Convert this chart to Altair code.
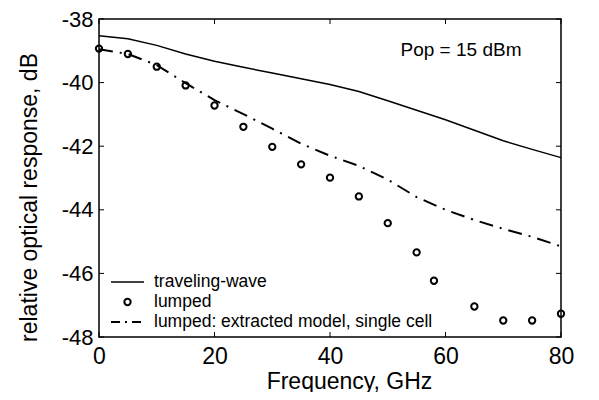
import altair as alt
import pandas as pd

# ---- data ----
freq = [0, 5, 10, 15, 20, 25, 30, 35, 40, 45, 50, 55, 60, 65, 70, 75, 80]
traveling_wave = [-38.53, -38.62, -38.83, -39.10, -39.33, -39.52, -39.70, -39.88, -40.06,
                  -40.28, -40.57, -40.87, -41.17, -41.50, -41.83, -42.10, -42.36]
extracted_model = [-38.95, -39.10, -39.45, -40.02, -40.55, -40.99, -41.45, -41.92, -42.30,
                   -42.62, -43.05, -43.60, -44.00, -44.32, -44.60, -44.85, -45.15]
lumped_freq = [0, 5, 10, 15, 20, 25, 30, 35, 40, 45, 50, 55, 58, 65, 70, 75, 80]
lumped_resp = [-38.93, -39.10, -39.50, -40.09, -40.72, -41.39, -42.02, -42.57, -42.99,
               -43.58, -44.42, -45.34, -46.23, -47.04, -47.48, -47.48, -47.27]
legend_labels = ["traveling-wave", "lumped", "lumped: extracted model, single cell"]
x_ticks = [0, 20, 40, 60, 80]
y_ticks = [-48, -46, -44, -42, -40, -38]
annotation = "Pop = 15 dBm"

FONT = "Liberation Sans"
W, H = 462, 318
TICK = 5

xs = alt.Scale(domain=[0, 80], nice=False, zero=False)
ys = alt.Scale(domain=[-48, -38], nice=False, zero=False)

x_axis = alt.Axis(values=x_ticks, title="Frequency, GHz", ticks=False, domain=False, grid=False,
                  labelFontSize=23, labelFont=FONT, labelPadding=8, labelFlush=False,
                  labelOverlap=False, labelExpr="'' + datum.value", labelColor="black",
                  titleFontSize=23, titleFont=FONT, titleFontWeight="normal", titleColor="black",
                  titleX=250, titleY=44, titleAlign="center", titleBaseline="middle")
y_axis = alt.Axis(values=y_ticks, title="relative optical response, dB", ticks=False, domain=False,
                  grid=False, labelFontSize=22, labelFont=FONT, labelPadding=6, labelFlush=False,
                  labelOverlap=False, labelExpr="'' + datum.value", labelColor="black",
                  titleFontSize=23, titleFont=FONT, titleFontWeight="normal", titleColor="black",
                  titleX=-70, titleY=178, titleAngle=-90, titleAlign="center", titleBaseline="middle")

X = alt.X("f:Q", scale=xs, axis=x_axis)
Y = alt.Y("v:Q", scale=ys, axis=y_axis)

tw_df = pd.DataFrame({"f": freq, "v": traveling_wave})
em_df = pd.DataFrame({"f": freq, "v": extracted_model})
lp_df = pd.DataFrame({"f": lumped_freq, "v": lumped_resp})
xt_df = pd.DataFrame({"f": x_ticks})
yt_df = pd.DataFrame({"v": y_ticks})

solid = alt.Chart(tw_df).mark_line(color="black", strokeWidth=1.5).encode(x=X, y=Y)
dashdot = alt.Chart(em_df).mark_line(color="black", strokeWidth=2, strokeDash=[14, 7, 2, 7]).encode(x=X, y=Y)
points = alt.Chart(lp_df).mark_point(shape="circle", filled=False, size=40, strokeWidth=2,
                                     color="black", opacity=1).encode(x=X, y=Y)

tick_left = alt.Chart(yt_df).mark_rule(color="black", strokeWidth=1).encode(
    y=Y, x=alt.value(0), x2=alt.value(TICK))
tick_right = alt.Chart(yt_df).mark_rule(color="black", strokeWidth=1).encode(
    y=Y, x=alt.value(W - TICK), x2=alt.value(W))
tick_bottom = alt.Chart(xt_df).mark_rule(color="black", strokeWidth=1).encode(
    x=X, y=alt.value(H - TICK), y2=alt.value(H))
tick_top = alt.Chart(xt_df).mark_rule(color="black", strokeWidth=1).encode(
    x=X, y=alt.value(0), y2=alt.value(TICK))

one = alt.Data(values=[{"a": 1}])
row_y = [263, 283, 303]
LX0, LX1, LTX = 12, 45, 55

leg = []
leg.append(alt.Chart(one).mark_rule(color="black", strokeWidth=1.5).encode(
    x=alt.value(LX0), x2=alt.value(LX1), y=alt.value(row_y[0])))
leg.append(alt.Chart(one).mark_point(shape="circle", filled=False, size=40, strokeWidth=2,
                                      color="black", opacity=1).encode(
    x=alt.value((LX0 + LX1) / 2), y=alt.value(row_y[1])))
leg.append(alt.Chart(one).mark_rule(color="black", strokeWidth=2, strokeDash=[9, 5, 2, 5]).encode(
    x=alt.value(LX0), x2=alt.value(LX1), y=alt.value(row_y[2])))
for i, lab in enumerate(legend_labels):
    leg.append(alt.Chart(one).mark_text(align="left", baseline="middle", fontSize=17.5, font=FONT,
                                        color="black").encode(
        x=alt.value(LTX), y=alt.value(row_y[i]), text=alt.value(lab)))

note = alt.Chart(one).mark_text(align="center", baseline="middle", fontSize=19, font=FONT,
                                color="black").encode(
    x=alt.value(362), y=alt.value(31), text=alt.value(annotation))

chart = alt.layer(solid, dashdot, points, tick_left, tick_right, tick_bottom, tick_top,
                  *leg, note).properties(
    width=W, height=H,
    autosize=alt.AutoSizeParams(type="none"),
    padding={"left": 91, "top": 11, "right": 30, "bottom": 55},
    background="white",
).configure_view(stroke="black", strokeWidth=1.5)

chart.save("out.html", embed_options={"renderer": "svg", "actions": False})
